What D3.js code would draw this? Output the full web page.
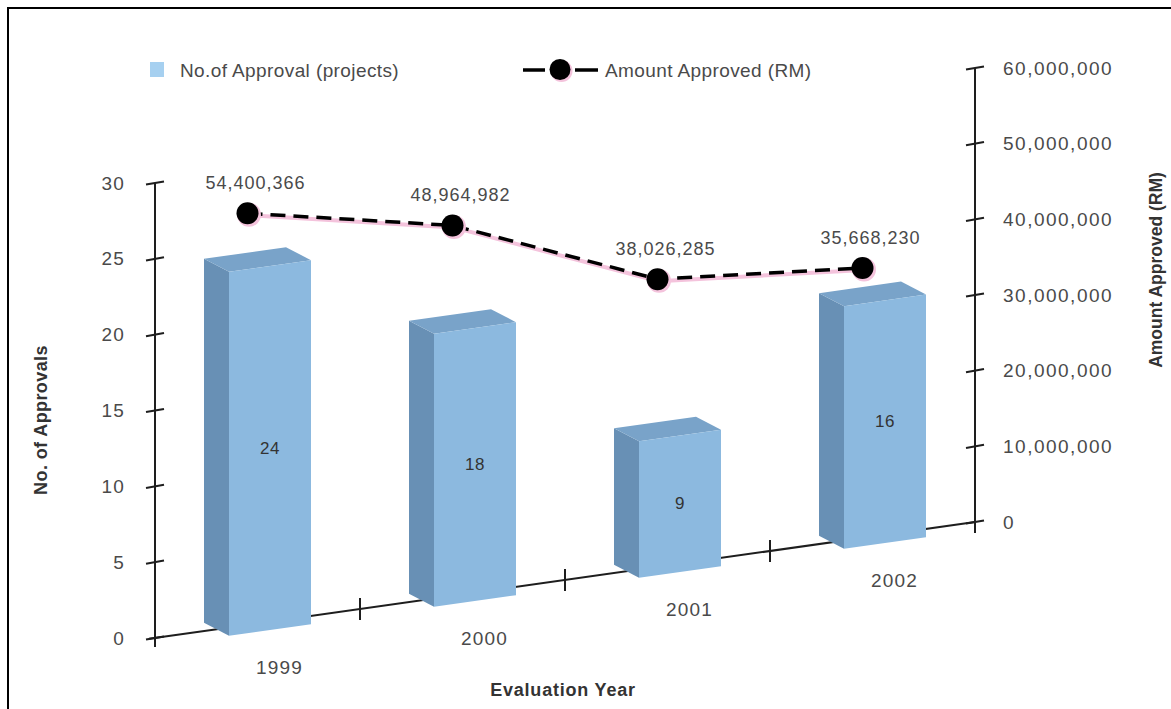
<!DOCTYPE html>
<html>
<head>
<meta charset="utf-8">
<script src="https://cdn.jsdelivr.net/npm/d3@7"></script>
<style>
  html, body { margin: 0; padding: 0; background: #fff; }
  svg { display: block; }
  text { font-family: "Liberation Sans", Arial, Helvetica, sans-serif; }
</style>
</head>
<body>
<svg id="chart" width="1171" height="709"></svg>
<script>
// ---- data ----
const years = ["1999", "2000", "2001", "2002"];
const approvals = [24, 18, 9, 16];
const amounts = [54400366, 48964982, 38026285, 35668230];
const leftTicks = [0, 5, 10, 15, 20, 25, 30];
const rightTicks = [0, 10000000, 20000000, 30000000, 40000000, 50000000, 60000000];

// ---- geometry ----
const svg = d3.select("#chart");
const X0 = 155, X1 = 975;          // ends of the sloping floor axis
const zeroL = 638, zeroR = 522;    // floor height at the left / right value axes

const x = d3.scaleBand().domain(years).range([X0, X1]).paddingInner(0.6).paddingOuter(0.3);
const yL = d3.scaleLinear().domain([0, 30]).range([zeroL, 183]);
const yR = d3.scaleLinear().domain([0, 60000000]).range([zeroR, 68]);

const slope = (zeroR - zeroL) / (X1 - X0);
const floorY = px => zeroL + slope * (px - X0);
// depth of the boxes: half-vector from mid plane to front face
const DX = 12.5, DY = 6.5;

const textCol = "#4a4a4a";
const axisCol = "#1e1e1e";
const glow = "#f4c3dc";

// frame
svg.append("rect").attr("x", 8).attr("y", 8).attr("width", 1180).attr("height", 720)
  .attr("fill", "none").attr("stroke", "#000").attr("stroke-width", 2);

// ---- left value axis ----
const gL = svg.append("g").attr("transform", `translate(${X0},0)`)
  .call(d3.axisLeft(yL).tickValues(leftTicks).tickSize(0).tickPadding(30));
gL.select(".domain").remove();
gL.selectAll("text").attr("fill", textCol).style("font-size", "19px")
  .style("letter-spacing", "1.2px")
  .style("font-family", '"Liberation Sans", Arial, sans-serif');
svg.append("line").attr("x1", X0).attr("x2", X0).attr("y1", yL(30)).attr("y2", zeroL + 9)
  .attr("stroke", axisCol).attr("stroke-width", 2);
svg.append("g").selectAll("line").data(leftTicks).join("line")
  .attr("x1", X0 - 9).attr("x2", X0 + 9)
  .attr("y1", d => yL(d) + 1.6).attr("y2", d => yL(d) - 1.6)
  .attr("stroke", axisCol).attr("stroke-width", 2);

// ---- right value axis ----
const gR = svg.append("g").attr("transform", `translate(${X1},0)`)
  .call(d3.axisRight(yR).tickValues(rightTicks).tickSize(0).tickPadding(28).tickFormat(d3.format(",")));
gR.select(".domain").remove();
gR.selectAll("text").attr("fill", textCol).style("font-size", "19px")
  .style("letter-spacing", "1.5px")
  .style("font-family", '"Liberation Sans", Arial, sans-serif');
svg.append("line").attr("x1", X1).attr("x2", X1).attr("y1", yR(60000000)).attr("y2", zeroR + 4)
  .attr("stroke", axisCol).attr("stroke-width", 2);
svg.append("g").selectAll("line").data(rightTicks).join("line")
  .attr("x1", X1 - 9).attr("x2", X1 + 9)
  .attr("y1", d => yR(d) + 1.6).attr("y2", d => yR(d) - 1.6)
  .attr("stroke", axisCol).attr("stroke-width", 2);

// ---- sloping category axis ----
svg.append("line").attr("x1", X0 - 6).attr("y1", floorY(X0 - 6)).attr("x2", X1).attr("y2", floorY(X1))
  .attr("stroke", axisCol).attr("stroke-width", 2);
const bounds = years.slice(1).map(y => x(y) - x.step() * x.paddingInner() / 2).concat([X1]);
svg.append("g").selectAll("line").data(bounds).join("line")
  .attr("x1", d => d).attr("x2", d => d)
  .attr("y1", d => floorY(d) - 11).attr("y2", d => floorY(d) + 11)
  .attr("stroke", axisCol).attr("stroke-width", 2);

// ---- 3D boxes ----
const bw = x.bandwidth();
const boxes = svg.append("g");
years.forEach((yr, i) => {
  const xa = x(yr), xb = xa + bw;
  const h = zeroL - yL(approvals[i]);
  const ya = floorY(xa), yb = floorY(xb);
  const FLB = [xa + DX, ya + DY], FRB = [xb + DX, yb + DY];
  const BLB = [xa - DX, ya - DY];
  const FLT = [FLB[0], FLB[1] - h], FRT = [FRB[0], FRB[1] - h];
  const BLT = [BLB[0], BLB[1] - h], BRT = [xb - DX, yb - DY - h];
  const poly = pts => pts.map(p => p.join(",")).join(" ");
  boxes.append("polygon").attr("points", poly([BLB, FLB, FLT, BLT])).attr("fill", "#6890b5");
  boxes.append("polygon").attr("points", poly([FLT, FRT, BRT, BLT])).attr("fill", "#79a3c9");
  boxes.append("polygon").attr("points", poly([FLB, FRB, FRT, FLT])).attr("fill", "#8cb9df");
  // value label on the front face
  const cx = (xa + xb) / 2 + DX;
  const cy = floorY((xa + xb) / 2) + DY - h / 2;
  boxes.append("text").attr("x", cx).attr("y", cy).attr("text-anchor", "middle")
    .attr("dominant-baseline", "central").attr("fill", "#333").style("font-size", "17px")
    .style("letter-spacing", "0.5px").text(approvals[i]);
  // category label below the floor
  const mx = (xa + xb) / 2;
  svg.append("text").attr("x", mx + 22).attr("y", floorY(mx) + 44)
    .attr("text-anchor", "middle").attr("dominant-baseline", "central")
    .attr("fill", textCol).style("font-size", "19px").style("letter-spacing", "1.2px").text(yr);
});

// ---- amount line ----
const pts = years.map((yr, i) => {
  const px = x(yr) + bw / 2 - 10;
  return [px, yR(amounts[i]) + floorY(px) - zeroR];
});
const lineGen = d3.line();
svg.append("path").attr("d", lineGen(pts)).attr("fill", "none")
  .attr("stroke", glow).attr("stroke-width", 4).attr("transform", "translate(1,2)");
svg.append("path").attr("d", lineGen(pts)).attr("fill", "none")
  .attr("stroke", "#000").attr("stroke-width", 3.5).attr("stroke-dasharray", "15,8");
svg.append("g").selectAll("circle.halo").data(pts).join("circle")
  .attr("cx", d => d[0] + 1.5).attr("cy", d => d[1] + 1.5).attr("r", 12).attr("fill", glow);
svg.append("g").selectAll("circle.pt").data(pts).join("circle")
  .attr("cx", d => d[0]).attr("cy", d => d[1]).attr("r", 11).attr("fill", "#000");
svg.append("g").selectAll("text").data(pts).join("text")
  .attr("x", d => d[0] + 8).attr("y", d => d[1] - 30)
  .attr("text-anchor", "middle").attr("dominant-baseline", "central")
  .attr("fill", textCol).style("font-size", "18px").style("letter-spacing", "1px")
  .text((d, i) => d3.format(",")(amounts[i]));

// ---- legend ----
svg.append("rect").attr("x", 150).attr("y", 62).attr("width", 14).attr("height", 15).attr("fill", "#a6d0f0");
svg.append("text").attr("x", 180).attr("y", 70).attr("dominant-baseline", "central")
  .attr("fill", textCol).style("font-size", "19px").style("letter-spacing", "0.4px")
  .text("No.of Approval (projects)");
[[523, 545], [575, 598]].forEach(([a, b]) => {
  svg.append("line").attr("x1", a).attr("x2", b).attr("y1", 70).attr("y2", 70)
    .attr("stroke", "#000").attr("stroke-width", 3.5);
});
svg.append("circle").attr("cx", 561.5).attr("cy", 71).attr("r", 11).attr("fill", glow);
svg.append("circle").attr("cx", 560).attr("cy", 69.5).attr("r", 10.5).attr("fill", "#000");
svg.append("text").attr("x", 605).attr("y", 70).attr("dominant-baseline", "central")
  .attr("fill", textCol).style("font-size", "19px").style("letter-spacing", "0.4px")
  .text("Amount Approved (RM)");

// ---- axis titles ----
svg.append("text").attr("transform", "translate(47,420) rotate(-90)")
  .attr("text-anchor", "middle").attr("font-weight", "bold").attr("fill", "#333")
  .style("font-size", "18px").style("letter-spacing", "0.4px").text("No. of Approvals");
svg.append("text").attr("transform", "translate(1162,270) rotate(-90)")
  .attr("text-anchor", "middle").attr("font-weight", "bold").attr("fill", "#333")
  .style("font-size", "17.5px").text("Amount Approved (RM)");
svg.append("text").attr("x", 563).attr("y", 696).attr("text-anchor", "middle")
  .attr("font-weight", "bold").attr("fill", "#333").style("font-size", "18px")
  .style("letter-spacing", "0.8px").text("Evaluation Year");
</script>
</body>
</html>
